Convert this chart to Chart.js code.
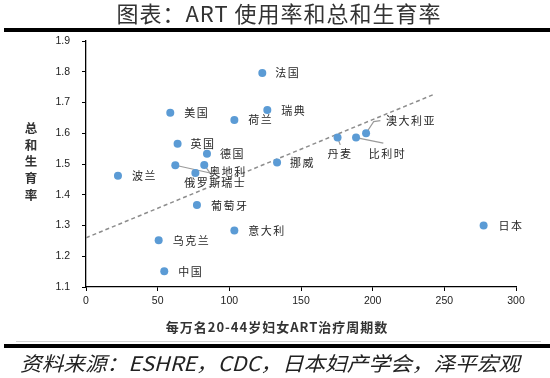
<!DOCTYPE html>
<html>
<head>
<meta charset="utf-8">
<script src="https://cdn.jsdelivr.net/npm/chart.js@4/dist/chart.umd.min.js"></script>
<style>
html,body{margin:0;padding:0;background:#fff;}
#wrap{position:relative;width:550px;height:378px;}
</style>
</head>
<body>
<div id="wrap"><canvas id="c" width="550" height="378"></canvas></div>
<script>
// ---- data ----
const countries = ['法国','瑞典','美国','荷兰','英国','德国','挪威','奥地利','瑞士','俄罗斯','波兰','葡萄牙','意大利','乌克兰','中国','丹麦','比利时','澳大利亚','日本'];
const artCycles = [123.0,126.5,58.8,103.5,63.9,84.4,133.3,62.3,82.5,76.3,22.3,77.4,103.5,50.7,54.6,175.5,188.4,195.4,277.4];
const tfr       = [1.796,1.676,1.667,1.643,1.566,1.533,1.505,1.496,1.497,1.471,1.462,1.367,1.284,1.252,1.151,1.586,1.586,1.600,1.300];
const trendX = [0, 242];
const trendY = [1.26, 1.725];
const xTicks = [0,50,100,150,200,250,300];
const yTicks = [1.1,1.2,1.3,1.4,1.5,1.6,1.7,1.8,1.9];

const titleText = '图表：ART 使用率和总和生育率';
const sourceText = '资料来源：ESHRE，CDC，日本妇产学会，泽平宏观';
const yTitle = '总和生育率';
const xTitle = '每万名20-44岁妇女ART治疗周期数';

// ---- label styling (offsets in px relative to point) ----
const labelOffsets = {
  '法国':[13,0],'瑞典':[14,0.7],'美国':[14,0.3],'荷兰':[14,0],'英国':[13,0],'德国':[13,0],
  '挪威':[13,0],'奥地利':[34,7],'瑞士':[17,18],'俄罗斯':[-11,10],'波兰':[14,0],'葡萄牙':[14,0.7],
  '意大利':[14,0.3],'乌克兰':[14,0.3],'中国':[14,0.3],'丹麦':[-10,16.6],'比利时':[12.6,16.6],
  '澳大利亚':[20,-12.6],'日本':[15,0]
};
const leaders = {
  '奥地利':[[35,7.8]],
  '瑞士':[[8.5,12]],
  '丹麦':[[2.7,7.3]],
  '比利时':[[27.3,5.6]],
  '澳大利亚':[[7.6,-11.6],[14.3,-12.6]]
};

const CJK = '"Noto Sans CJK SC", "Noto Sans", sans-serif';

const decor = {
  id:'decor',
  beforeDraw(chart){
    const ctx = chart.ctx;
    ctx.save();
    ctx.fillStyle = '#fff';
    ctx.fillRect(0,0,chart.width,chart.height);
    // title
    ctx.fillStyle = '#333';
    ctx.font = '22px ' + CJK;
    ctx.letterSpacing = '1px';
    ctx.textAlign = 'center';
    ctx.textBaseline = 'middle';
    ctx.fillText(titleText, 279, 14);
    ctx.letterSpacing = '0px';
    // separators
    ctx.fillStyle = '#000';
    ctx.fillRect(4, 28, 546, 4);
    ctx.fillRect(4, 344, 546, 4);
    ctx.fillStyle = '#d0d0d0';
    ctx.fillRect(16, 341, 525, 1);
    // footer
    ctx.fillStyle = '#222';
    ctx.font = 'italic 20px ' + CJK;
    ctx.textAlign = 'left';
    const w = ctx.measureText(sourceText).width;
    ctx.save();
    ctx.translate(20, 363);
    ctx.scale(500 / w, 1);
    ctx.fillText(sourceText, 0, 0);
    ctx.restore();
    // y title stacked
    ctx.font = 'bold 12.5px ' + CJK;
    ctx.textAlign = 'center';
    ctx.fillStyle = '#333';
    for (let i = 0; i < yTitle.length; i++) {
      ctx.fillText(yTitle[i], 31, 128 + i * 16.8);
    }
    // x title
    ctx.font = 'bold 13px ' + CJK;
    ctx.letterSpacing = '1px';
    ctx.fillText(xTitle, 277, 327);
    ctx.restore();
  },
  beforeDatasetsDraw(chart){
    const ctx = chart.ctx;
    const xs = chart.scales.x, ys = chart.scales.y;
    ctx.save();
    ctx.strokeStyle = '#9a9a9a';
    ctx.lineWidth = 1.2;
    countries.forEach((name, i) => {
      const segs = leaders[name];
      if (!segs) return;
      const px = xs.getPixelForValue(artCycles[i]);
      const py = ys.getPixelForValue(tfr[i]);
      ctx.beginPath();
      ctx.moveTo(px, py);
      segs.forEach(s => ctx.lineTo(px + s[0], py + s[1]));
      ctx.stroke();
    });
    ctx.restore();
  },
  afterDatasetsDraw(chart){
    const ctx = chart.ctx;
    const xs = chart.scales.x, ys = chart.scales.y;
    ctx.save();
    ctx.fillStyle = '#262626';
    ctx.font = '11px ' + CJK;
    ctx.letterSpacing = '1.5px';
    ctx.textAlign = 'left';
    ctx.textBaseline = 'middle';
    countries.forEach((name, i) => {
      const off = labelOffsets[name] || [13,0];
      const px = xs.getPixelForValue(artCycles[i]);
      const py = ys.getPixelForValue(tfr[i]);
      ctx.fillText(name, px + off[0], py + off[1]);
    });
    ctx.restore();
  }
};

const tickFont = {family:'"Liberation Sans", Arial, sans-serif', size:10.5};

new Chart(document.getElementById('c'), {
  type:'scatter',
  data:{
    datasets:[
      {
        label:'ART',
        data: countries.map((c,i)=>({x:artCycles[i], y:tfr[i]})),
        backgroundColor:'#5B9BD5',
        borderWidth:0,
        pointRadius:4,
        pointHoverRadius:4
      },
      {
        label:'trend',
        type:'line',
        data: trendX.map((x,i)=>({x:x, y:trendY[i]})),
        borderColor:'#8c8c8c',
        borderWidth:1.5,
        borderDash:[4,3],
        pointRadius:0,
        fill:false
      }
    ]
  },
  plugins:[decor],
  options:{
    responsive:false,
    animation:false,
    events:[],
    layout:{padding:{left:0, top:41, right:34, bottom:71}},
    plugins:{legend:{display:false}, tooltip:{enabled:false}},
    scales:{
      x:{
        type:'linear',
        min:0, max:300,
        afterBuildTicks(s){ s.ticks = xTicks.map(v=>({value:v})); },
        afterFit(s){ s.height = 20; },
        grid:{drawOnChartArea:false, drawTicks:true, tickLength:4, tickColor:'#000', tickWidth:1},
        border:{display:true, color:'#000', width:1.3},
        ticks:{font:tickFont, color:'#222', padding:4, maxRotation:0, autoSkip:false, callback:v=>String(v)}
      },
      y:{
        type:'linear',
        min:1.1, max:1.9,
        afterBuildTicks(s){ s.ticks = yTicks.map(v=>({value:v})); },
        afterFit(s){ s.width = 86; },
        grid:{drawOnChartArea:false, drawTicks:true, tickLength:4, tickColor:'#000', tickWidth:1},
        border:{display:true, color:'#000', width:1.3},
        ticks:{font:tickFont, color:'#222', padding:12, autoSkip:false, callback:v=>Number(v).toFixed(1)}
      }
    }
  }
});
</script>
</body>
</html>
